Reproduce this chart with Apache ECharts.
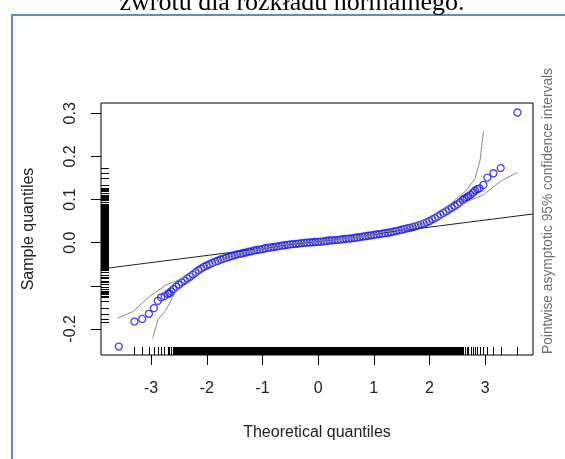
<!DOCTYPE html>
<html>
<head>
<meta charset="utf-8">
<script src="https://cdn.jsdelivr.net/npm/echarts@6/dist/echarts.min.js"></script>
<style>html,body{margin:0;padding:0;background:#fff}#main{width:565px;height:459px}</style>
</head>
<body>
<div id="main"></div>
<script>
// qq plot data
var theoretical = [
  -3.58, -3.30, -3.16, -3.04, -2.95, -2.88, -2.82, -2.76, -2.70, -2.67, -2.64,
  -2.60, -2.55, -2.50, -2.45, -2.40, -2.35, -2.30, -2.25, -2.20, -2.15, -2.10, -2.05,
  -2.00, -1.95, -1.90, -1.85, -1.80, -1.75, -1.70, -1.65, -1.60, -1.55, -1.50, -1.45,
  -1.40, -1.35, -1.30, -1.25, -1.20, -1.15, -1.10, -1.05, -1.00, -0.95, -0.90, -0.85,
  -0.80, -0.75, -0.70, -0.65, -0.60, -0.55, -0.50, -0.45, -0.40, -0.35, -0.30, -0.25,
  -0.20, -0.15, -0.10, -0.05, 0.00, 0.05, 0.10, 0.15, 0.20, 0.25, 0.30, 0.35,
  0.40, 0.45, 0.50, 0.55, 0.60, 0.65, 0.70, 0.75, 0.80, 0.85, 0.90, 0.95,
  1.00, 1.05, 1.10, 1.15, 1.20, 1.25, 1.30, 1.35, 1.40, 1.45, 1.50, 1.55,
  1.60, 1.65, 1.70, 1.75, 1.80, 1.85, 1.90, 1.95, 2.00, 2.05, 2.10, 2.15,
  2.20, 2.25, 2.30, 2.35, 2.40, 2.45, 2.50, 2.55, 2.60,
  2.63, 2.67, 2.70, 2.74, 2.78, 2.82, 2.86, 2.90, 2.97, 3.04, 3.15, 3.28, 3.58
];
var sample = [
  -0.241, -0.183, -0.177, -0.165, -0.152, -0.135, -0.127, -0.124, -0.119, -0.117, -0.113,
  -0.108, -0.102, -0.097, -0.092, -0.088, -0.083, -0.079, -0.074, -0.069, -0.064, -0.060, -0.056,
  -0.053, -0.050, -0.047, -0.044, -0.042, -0.039, -0.037, -0.035, -0.033, -0.031, -0.029, -0.027,
  -0.026, -0.024, -0.023, -0.021, -0.020, -0.018, -0.017, -0.016, -0.015, -0.013, -0.012, -0.011,
  -0.010, -0.009, -0.008, -0.007, -0.006, -0.005, -0.004, -0.0035, -0.003, -0.002, -0.001, -0.0005,
  0.000, 0.0005, 0.001, 0.0015, 0.002, 0.0025, 0.003, 0.004, 0.005, 0.0055, 0.006, 0.0065,
  0.007, 0.008, 0.009, 0.0095, 0.010, 0.011, 0.012, 0.013, 0.014, 0.015, 0.016, 0.017,
  0.018, 0.019, 0.020, 0.021, 0.022, 0.023, 0.024, 0.0255, 0.027, 0.0285, 0.030, 0.0315,
  0.033, 0.0345, 0.036, 0.038, 0.040, 0.042, 0.044, 0.047, 0.050, 0.054, 0.057, 0.061,
  0.065, 0.069, 0.073, 0.077, 0.081, 0.085, 0.089, 0.094, 0.099,
  0.102, 0.105, 0.108, 0.111, 0.116, 0.121, 0.124, 0.126, 0.134, 0.151, 0.161, 0.173, 0.302
];

// confidence envelope (gray lines)
var upperX = [-3.60, -3.33, -3.03, -2.73, -2.49, -2.20, -2.00, -1.50, -1.00, -0.50, 0.00, 0.50, 1.00, 1.50, 2.00, 2.19, 2.37, 2.49, 2.67, 2.82, 2.91, 2.97];
var upperY = [-0.175, -0.160, -0.125, -0.098, -0.086, -0.066, -0.050, -0.026, -0.013, -0.002, 0.004, 0.011, 0.020, 0.033, 0.055, 0.070, 0.088, 0.103, 0.122, 0.149, 0.192, 0.258];
var lowerX = [-2.97, -2.88, -2.73, -2.64, -2.55, -2.37, -2.20, -2.00, -1.50, -1.00, -0.50, 0.00, 0.50, 1.00, 1.50, 2.00, 2.20, 2.37, 2.67, 2.97, 3.27, 3.58];
var lowerY = [-0.222, -0.179, -0.156, -0.133, -0.110, -0.087, -0.073, -0.057, -0.032, -0.017, -0.006, 0.000, 0.007, 0.016, 0.027, 0.046, 0.058, 0.074, 0.095, 0.111, 0.142, 0.163];

// qqline
var refX = [-3.90, 3.86];
var refY = [-0.061, 0.0666];

var xTicks = [-3, -2, -1, 0, 1, 2, 3];
var yTicks = [-0.2, -0.1, 0.0, 0.1, 0.2, 0.3];
var yLabels = [-0.2, 0.0, 0.1, 0.2, 0.3];

var xMin = -3.90, xMax = 3.86, yMin = -0.2606, yMax = 0.324;

function pairs(a, b) {
  return a.map(function (v, i) { return [v, b[i]]; });
}

// rug marks, snapped to whole pixels; small gaps get filled so the dense part reads solid
function rugItem(side) {
  return function (params, api) {
    var cs = params.coordSys;
    var v = api.value(0), nx = api.value(1);
    var p, q, lo, hi, children = [];
    if (side === 'left') {
      p = api.coord([xMin, v]); q = api.coord([xMin, nx]);
      var py = Math.round(p[1]);
      children.push({type: 'rect', shape: {x: cs.x, y: py, width: 8, height: 1}, style: {fill: '#000'}});
      if (!isNaN(nx) && Math.abs(q[1] - p[1]) < 2.0) {
        lo = Math.round(Math.min(p[1], q[1])); hi = Math.round(Math.max(p[1], q[1])) + 1;
        children.push({type: 'rect', shape: {x: cs.x, y: lo, width: 8, height: hi - lo}, style: {fill: '#000'}});
      }
    } else {
      p = api.coord([v, yMin]); q = api.coord([nx, yMin]);
      var yb = cs.y + cs.height;
      var px = Math.round(p[0]);
      children.push({type: 'rect', shape: {x: px, y: yb - 8, width: 1, height: 8}, style: {fill: '#000'}});
      if (!isNaN(nx) && Math.abs(v) <= 2.6 && Math.abs(nx) <= 2.6) {
        lo = Math.round(Math.min(p[0], q[0])); hi = Math.round(Math.max(p[0], q[0])) + 1;
        children.push({type: 'rect', shape: {x: lo, y: yb - 8, width: hi - lo, height: 8}, style: {fill: '#000'}});
      }
    }
    return {type: 'group', children: children};
  };
}

var leftRug = sample.slice(1, -1).map(function (v, i, arr) { return [v, i < arr.length - 1 ? arr[i + 1] : NaN]; });
var bottomRug = theoretical.slice(1).map(function (v, i, arr) { return [v, i < arr.length - 1 ? arr[i + 1] : NaN]; });

var myChart = echarts.init(document.getElementById('main'));

var option = {
  animation: false,
  textStyle: {fontFamily: 'Liberation Sans'},
  grid: {left: 101, top: 103, width: 432, height: 252, show: true, borderColor: '#000', borderWidth: 1},
  graphic: [
    {type: 'rect', shape: {x: 12, y: 15, width: 600, height: 500}, style: {fill: 'none', stroke: '#5b8bd0', lineWidth: 2}, z: -1},
    {type: 'text', x: 292, y: 16, style: {text: 'zwrotu dla rozkładu normalnego.', font: '26px "Liberation Serif"', fill: '#000', align: 'center', verticalAlign: 'bottom'}},
    {type: 'text', x: 548, y: 211, rotation: Math.PI / 2, style: {text: 'Pointwise asymptotic 95% confidence intervals', font: '13.8px "Liberation Sans"', fill: '#6e6e6e', align: 'center', verticalAlign: 'middle'}}
  ],
  xAxis: {
    type: 'value', min: xMin, max: xMax,
    name: 'Theoretical quantiles', nameLocation: 'middle', nameGap: 70,
    nameTextStyle: {fontSize: 16, color: '#222'},
    axisLine: {show: false, onZero: false},
    axisTick: {show: true, length: 10, inside: false, customValues: xTicks, lineStyle: {color: '#000'}},
    axisLabel: {customValues: xTicks, fontSize: 16, color: '#222', margin: 26},
    splitLine: {show: false}
  },
  yAxis: {
    type: 'value', min: yMin, max: yMax,
    name: 'Sample quantiles', nameLocation: 'middle', nameGap: 64, nameRotate: 90,
    nameTextStyle: {fontSize: 16, color: '#222'},
    axisLine: {show: false, onZero: false},
    axisTick: {show: true, length: 10, inside: false, customValues: yTicks, lineStyle: {color: '#000'}},
    axisLabel: {customValues: yLabels, rotate: 90, fontSize: 16, color: '#222', margin: 22,
      formatter: function (v) { return v.toFixed(1); }},
    splitLine: {show: false}
  },
  series: [
    {type: 'line', data: pairs(refX, refY), symbol: 'none', lineStyle: {color: '#222', width: 1}, z: 3},
    {type: 'scatter', data: pairs(theoretical, sample), symbol: 'circle', symbolSize: 7,
      itemStyle: {color: 'rgba(0,0,0,0)', borderColor: '#1515ff', borderWidth: 1.3}, z: 4},
    {type: 'line', data: pairs(upperX, upperY), symbol: 'none', lineStyle: {color: '#8a8a8a', width: 1}, z: 5},
    {type: 'line', data: pairs(lowerX, lowerY), symbol: 'none', lineStyle: {color: '#8a8a8a', width: 1}, z: 5},
    {type: 'custom', data: leftRug, renderItem: rugItem('left'), encode: {y: 0}, silent: true, z: 6},
    {type: 'custom', data: bottomRug, renderItem: rugItem('bottom'), encode: {x: 0}, silent: true, z: 6}
  ]
};

myChart.setOption(option);
</script>
</body>
</html>
